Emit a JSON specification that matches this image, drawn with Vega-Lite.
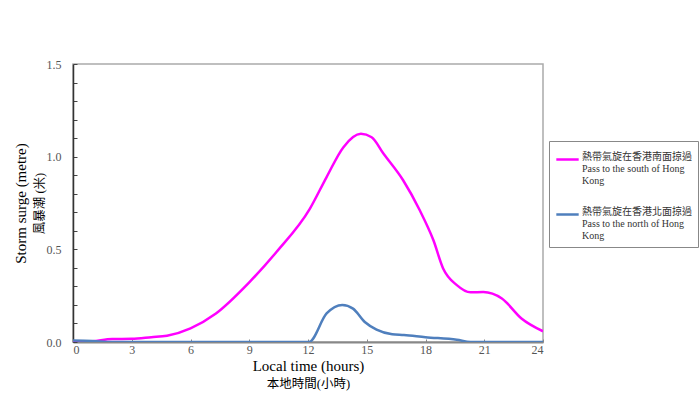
{
  "$schema": "https://vega.github.io/schema/vega-lite/v6.json",
  "width": 470,
  "height": 278,
  "autosize": "none",
  "padding": {"left": 73, "top": 64, "right": 157, "bottom": 57},
  "background": "white",
  "config": {
    "view": {"stroke": "#aaaaaa", "strokeWidth": 1.5},
    "font": "Liberation Serif, Noto Sans CJK TC"
  },
  "data": {
    "values": [
      {"t": 0, "v": 0.0, "s": "south"},
      {"t": 1, "v": 0.004, "s": "south"},
      {"t": 2, "v": 0.016, "s": "south"},
      {"t": 3, "v": 0.017, "s": "south"},
      {"t": 4, "v": 0.026, "s": "south"},
      {"t": 4.8, "v": 0.034, "s": "south"},
      {"t": 6, "v": 0.074, "s": "south"},
      {"t": 7.3, "v": 0.154, "s": "south"},
      {"t": 9, "v": 0.322, "s": "south"},
      {"t": 10.4, "v": 0.487, "s": "south"},
      {"t": 12.1, "v": 0.72, "s": "south"},
      {"t": 12.95, "v": 0.89, "s": "south"},
      {"t": 13.8, "v": 1.05, "s": "south"},
      {"t": 14.7, "v": 1.123, "s": "south"},
      {"t": 15.25, "v": 1.105, "s": "south"},
      {"t": 15.85, "v": 1.017, "s": "south"},
      {"t": 16.85, "v": 0.874, "s": "south"},
      {"t": 17.7, "v": 0.712, "s": "south"},
      {"t": 18.4, "v": 0.55, "s": "south"},
      {"t": 18.9, "v": 0.397, "s": "south"},
      {"t": 19.6, "v": 0.307, "s": "south"},
      {"t": 20.3, "v": 0.268, "s": "south"},
      {"t": 20.95, "v": 0.27, "s": "south"},
      {"t": 21.9, "v": 0.235, "s": "south"},
      {"t": 22.9, "v": 0.127, "s": "south"},
      {"t": 24, "v": 0.058, "s": "south"},
      {"t": 0, "v": 0.008, "s": "north"},
      {"t": 1, "v": 0.006, "s": "north"},
      {"t": 2, "v": 0.0, "s": "north"},
      {"t": 12.05, "v": 0.0, "s": "north"},
      {"t": 12.95, "v": 0.154, "s": "north"},
      {"t": 13.75, "v": 0.2, "s": "north"},
      {"t": 14.3, "v": 0.18, "s": "north"},
      {"t": 14.9, "v": 0.108, "s": "north"},
      {"t": 15.5, "v": 0.067, "s": "north"},
      {"t": 16.3, "v": 0.042, "s": "north"},
      {"t": 16.9, "v": 0.038, "s": "north"},
      {"t": 18, "v": 0.026, "s": "north"},
      {"t": 19.6, "v": 0.012, "s": "north"},
      {"t": 20.3, "v": 0.0, "s": "north"},
      {"t": 24, "v": 0.0, "s": "north"}
    ]
  },
  "resolve": {"axis": {"x": "independent", "y": "independent"}},
  "layer": [
    {
      "mark": {"type": "line", "interpolate": "monotone", "strokeWidth": 2.5, "clip": true},
      "encoding": {
        "x": {
          "field": "t", "type": "quantitative",
          "scale": {"domain": [0, 24], "nice": false},
          "axis": {
            "orient": "bottom",
            "values": [0, 3, 6, 9, 12, 15, 18, 21, 24],
            "grid": false,
            "tickSize": -3,
            "tickColor": "#888888",
            "domainColor": "#888888",
            "domainWidth": 2,
            "labelColor": "#555555",
            "labelFontSize": 12,
            "labelPadding": 5,
            "labelFont": "Liberation Serif",
            "title": "Local time (hours)",
            "titleFontSize": 15,
            "titleFontWeight": "normal",
            "titleColor": "#000000",
            "titlePadding": 3
          }
        },
        "y": {
          "field": "v", "type": "quantitative",
          "scale": {"domain": [0, 1.5], "nice": false},
          "axis": {
            "orient": "left",
            "values": [0, 0.1, 0.2, 0.3, 0.4, 0.5, 0.6, 0.7, 0.8, 0.9, 1.0, 1.1, 1.2, 1.3, 1.4, 1.5],
            "labelExpr": "abs(datum.value*2 - round(datum.value*2)) < 0.001 ? format(datum.value, '.1f') : ''",
            "grid": false,
            "tickSize": -4,
            "tickColor": "#444444",
            "domainColor": "#333333",
            "domainWidth": 1.5,
            "labelColor": "#555555",
            "labelFontSize": 12,
            "labelPadding": 16,
            "labelFont": "Liberation Serif",
            "title": "Storm surge (metre)",
            "titleFontSize": 15,
            "titleFontWeight": "normal",
            "titleColor": "#000000",
            "titlePadding": 18
          }
        },
        "color": {
          "field": "s", "type": "nominal",
          "scale": {"domain": ["south", "north"], "range": ["#ff00ff", "#4f7fbd"]},
          "legend": {
            "orient": "none",
            "legendX": 476,
            "legendY": 77,
            "title": null,
            "direction": "vertical",
            "symbolType": "stroke",
            "symbolSize": 500,
            "symbolStrokeWidth": 2.5,
            "strokeColor": "#888888",
            "padding": 6,
            "rowPadding": 16,
            "labelFontSize": 10,
            "labelLineHeight": 13.5,
            "labelColor": "#333333",
            "labelLimit": 200,
            "labelOffset": 2,
            "labelBaseline": "alphabetic",
            "labelExpr": "datum.label == 'south' ? ['熱帶氣旋在香港南面掠過', 'Pass to the south of Hong', 'Kong'] : ['熱帶氣旋在香港北面掠過', 'Pass to the north of Hong', 'Kong']"
          }
        }
      }
    },
    {
      "mark": {"type": "point", "opacity": 0},
      "encoding": {
        "x": {
          "field": "t", "type": "quantitative",
          "scale": {"domain": [0, 24], "nice": false},
          "axis": {
            "orient": "bottom",
            "labels": false,
            "ticks": false,
            "domain": false,
            "grid": false,
            "title": "本地時間(小時)",
            "titleFontSize": 12.5,
            "titleFontWeight": "normal",
            "titleColor": "#000000",
            "titlePadding": 35
          }
        },
        "y": {
          "field": "v", "type": "quantitative",
          "scale": {"domain": [0, 1.5], "nice": false},
          "axis": {
            "orient": "left",
            "labels": false,
            "ticks": false,
            "domain": false,
            "grid": false,
            "title": "風暴潮 (米)",
            "titleFontSize": 12.5,
            "titleFontWeight": "normal",
            "titleColor": "#000000",
            "titlePadding": 27
          }
        }
      }
    }
  ]
}
